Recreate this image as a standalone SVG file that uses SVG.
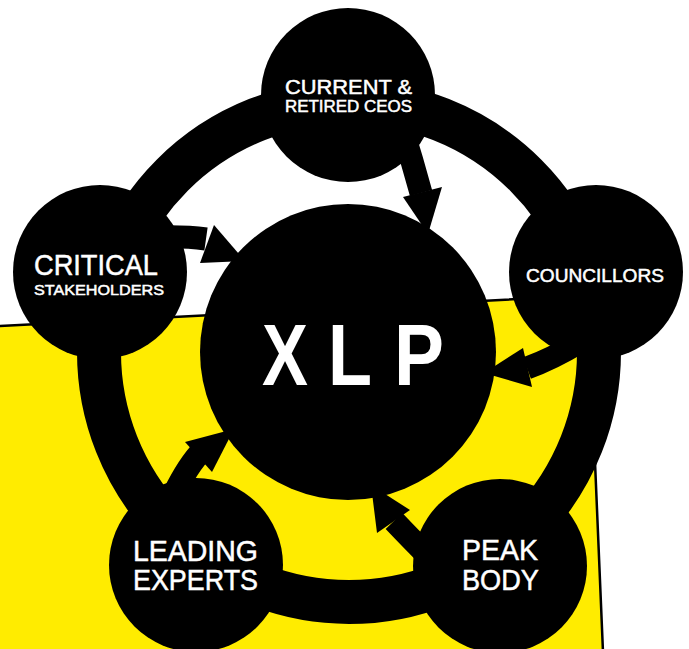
<svg xmlns="http://www.w3.org/2000/svg" width="689" height="649" viewBox="0 0 689 649">
  <style>
    .node { fill: #000; }
    .lbl { fill: #fff; stroke: #fff; stroke-width: 0.5; font-family: "Liberation Sans", "DejaVu Sans", sans-serif; }
    .big { fill: #fff; font-family: "Liberation Sans", "DejaVu Sans", sans-serif; font-weight: bold; }
    .shaft { fill: none; stroke: #000; stroke-width: 23; }
    .head { fill: #000; }
  </style>
  <rect x="0" y="0" width="689" height="649" fill="#fff"/>
  <g id="background">
    <polygon points="-3,326.2 588,295.3 603,652 -3,652" fill="#ffec00" stroke="#000" stroke-width="2.5"/>
  </g>
  <g id="connectors">
    <circle cx="349" cy="352" r="250" fill="none" stroke="#000" stroke-width="44"/>
    <!-- CEOs -> XLP -->
    <path class="shaft" d="M 402 128 Q 412 160 421 193"/>
    <polygon class="head" points="403,197 442,187 428,234"/>
    <!-- Councillors -> XLP -->
    <path class="shaft" d="M 527 368 Q 552 359 580 342"/>
    <polygon class="head" points="523,348 532,387 484,373"/>
    <!-- Peak Body -> XLP -->
    <path class="shaft" d="M 394 521 Q 412 540 434 562"/>
    <polygon class="head" points="377,533 410,510 371,485"/>
    <!-- Leading Experts -> XLP -->
    <path class="shaft" d="M 199 454 Q 185 470 170 502"/>
    <polygon class="head" points="185,442 212,472 234,429"/>
    <!-- Critical Stakeholders -> XLP -->
    <path class="shaft" d="M 206 239 Q 185 236 155 237"/>
    <polygon class="head" points="214,225 200,263 245,261"/>
  </g>
  <g id="xlp">
    <circle class="node" cx="348" cy="352" r="148"/>
    <text class="big" x="262" y="385" font-size="88" textLength="46" lengthAdjust="spacingAndGlyphs">X</text>
    <text class="big" x="328" y="385" font-size="88" textLength="44" lengthAdjust="spacingAndGlyphs">L</text>
    <text class="big" x="394" y="385" font-size="88" textLength="50" lengthAdjust="spacingAndGlyphs">P</text>
  </g>
  <g id="ceos">
    <circle class="node" cx="348" cy="95" r="87"/>
    <text class="lbl" x="285" y="93.5" font-size="21" textLength="127" lengthAdjust="spacingAndGlyphs">CURRENT &amp;</text>
    <text class="lbl" x="285" y="111.5" font-size="16" textLength="127" lengthAdjust="spacingAndGlyphs">RETIRED CEOS</text>
  </g>
  <g id="councillors">
    <circle class="node" cx="596" cy="272" r="87"/>
    <text class="lbl" x="526" y="281.5" font-size="18.5" textLength="138" lengthAdjust="spacingAndGlyphs">COUNCILLORS</text>
  </g>
  <g id="peak-body">
    <circle class="node" cx="500" cy="566" r="87"/>
    <text class="lbl" x="462" y="559.5" font-size="30" textLength="76" lengthAdjust="spacingAndGlyphs">PEAK</text>
    <text class="lbl" x="462" y="589.5" font-size="30" textLength="77" lengthAdjust="spacingAndGlyphs">BODY</text>
  </g>
  <g id="leading-experts">
    <circle class="node" cx="196" cy="565" r="87"/>
    <text class="lbl" x="133" y="560.5" font-size="29" textLength="125" lengthAdjust="spacingAndGlyphs">LEADING</text>
    <text class="lbl" x="133" y="590" font-size="29" textLength="125" lengthAdjust="spacingAndGlyphs">EXPERTS</text>
  </g>
  <g id="critical-stakeholders">
    <circle class="node" cx="100" cy="272" r="87"/>
    <text class="lbl" x="34" y="275" font-size="30" textLength="124" lengthAdjust="spacingAndGlyphs">CRITICAL</text>
    <text class="lbl" x="34" y="294.5" font-size="15" textLength="130" lengthAdjust="spacingAndGlyphs">STAKEHOLDERS</text>
  </g>
</svg>
